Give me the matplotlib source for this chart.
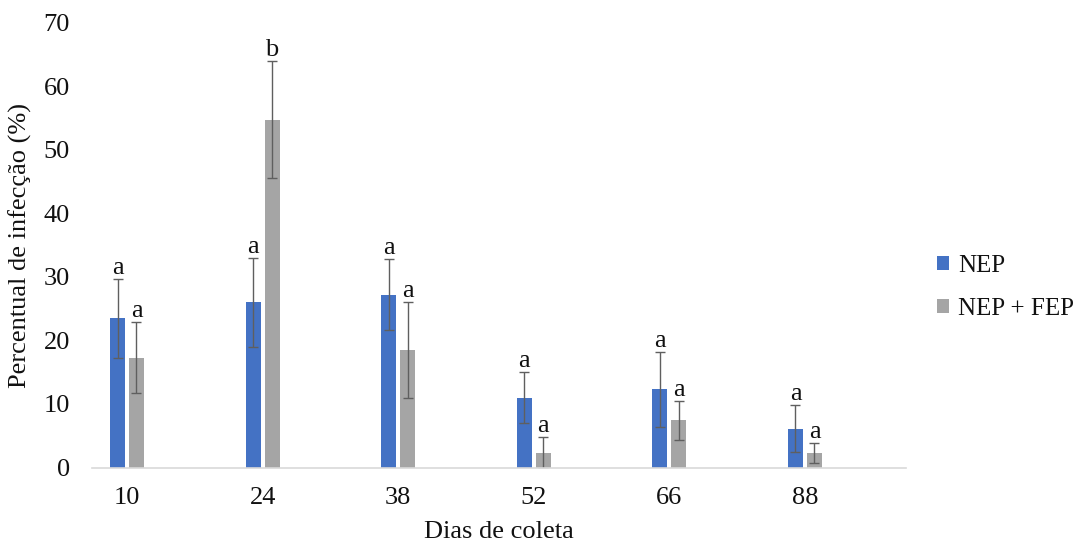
import matplotlib.pyplot as plt
import numpy as np

# Infection percentage per sampling day, two treatments
dias = ["10", "24", "38", "52", "66", "88"]
nep = [23.5, 26.0, 27.2, 11.0, 12.3, 6.1]
nep_err = [6.2, 7.0, 5.6, 4.0, 5.9, 3.7]
nep_fep = [17.3, 54.7, 18.5, 2.3, 7.4, 2.3]
nep_fep_err = [5.6, 9.2, 7.6, 2.5, 3.1, 1.6]
letras_nep = ["a", "a", "a", "a", "a", "a"]
letras_fep = ["a", "b", "a", "a", "a", "a"]

BLUE = "#4472C4"
GREY = "#A5A5A5"
ERR = "#5f5f5f"
TEXT = "#111111"
FS = 19

plt.rcParams["font.family"] = ["Liberation Serif", "DejaVu Serif"]

fig = plt.figure(figsize=(10.75, 5.43), dpi=100)
ax = fig.add_axes([0.0856, 0.139, 0.7572, 0.8196])

x = np.arange(len(dias))
width = 0.111
off = 0.07

err_kw = dict(ecolor=ERR, elinewidth=1.0, capsize=3.5, capthick=1.0)
b1 = ax.bar(x - off, nep, width, yerr=nep_err, color=BLUE, label="NEP",
            error_kw=err_kw, zorder=2)
b2 = ax.bar(x + off, nep_fep, width, yerr=nep_fep_err, color=GREY,
            label="NEP + FEP", error_kw=err_kw, zorder=2)

# significance letters above each error bar
for xs, vals, errs, letters in [(x - off, nep, nep_err, letras_nep),
                                (x + off, nep_fep, nep_fep_err, letras_fep)]:
    for xi, v, e, t in zip(xs, vals, errs, letters):
        ax.annotate(t, (xi, v + e), xytext=(0, 0), textcoords="offset points",
                    ha="center", va="bottom", fontsize=FS, color=TEXT)

ax.set_xlim(-0.258, 5.745)
ax.set_ylim(0, 70)
ax.set_yticks(range(0, 71, 10))
ax.set_xticks(x)
ax.set_xticklabels(dias)

for s in ("top", "right", "left"):
    ax.spines[s].set_visible(False)
ax.spines["bottom"].set_color("#d9d9d9")
ax.spines["bottom"].set_linewidth(1.2)
ax.tick_params(axis="both", length=0, labelsize=FS, colors=TEXT)
ax.tick_params(axis="y", pad=16)
ax.tick_params(axis="x", pad=14)

ax.set_xlabel("Dias de coleta", fontsize=FS, color=TEXT, labelpad=9)
ax.set_ylabel("Percentual de infecção (%)", fontsize=FS, color=TEXT, labelpad=8)

ax.legend(handles=[b1, b2], labels=["NEP", "NEP + FEP"], frameon=False,
          fontsize=18, loc="center left", bbox_to_anchor=(1.038, 0.405),
          borderaxespad=0, borderpad=0,
          handlelength=0.5, handleheight=0.5, handletextpad=0.35,
          labelspacing=0.85, labelcolor=TEXT)

fig.savefig("out.png", dpi=100)
